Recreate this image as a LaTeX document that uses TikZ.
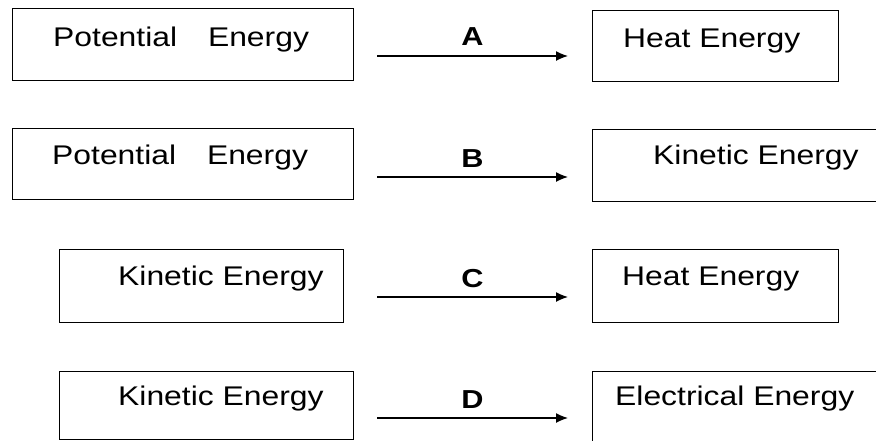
\documentclass[tikz,border=0pt]{standalone}
\usepackage{fontspec}
\setmainfont{Liberation Sans}[FakeStretch=1.18]
\usetikzlibrary{arrows.meta}
\begin{document}
\begin{tikzpicture}[x=1pt,y=-1pt,
  box/.style={draw=black, line width=1.4pt, rectangle, inner sep=0pt, anchor=north west},
  txt/.style={font=\fontsize{27}{30}\selectfont, inner sep=0pt, anchor=base west},
  lbl/.style={font=\fontsize{26}{28}\selectfont\bfseries, inner sep=0pt, anchor=base},
  conn/.style={line width=1.3pt, -{Latex[length=12pt,width=10pt]}}]
\useasboundingbox[fill=white] (0,0) rectangle (876,440);
% row 1
\node[box, minimum width=341pt, minimum height=72pt] (l1) at (12,8) {};
\node[txt] (t1) at (53,46) {Potential\hspace{22pt} Energy};
\node[box, minimum width=246pt, minimum height=71pt] (r1) at (592,10) {};
\node[txt] (u1) at (623,47) {Heat Energy};
\coordinate (s1) at (377,56);
\coordinate (e1) at (568,56);
\draw[conn] (s1) -- node[lbl, yshift=11pt] (A) {A} (e1);
% row 2
\node[box, minimum width=341pt, minimum height=71pt] (l2) at (12,128) {};
\node[txt] (t2) at (52,164) {Potential\hspace{22pt} Energy};
\node[box, minimum width=320pt, minimum height=72pt] (r2) at (592,129) {};
\node[txt] (u2) at (653,164) {Kinetic Energy};
\coordinate (s2) at (377,177);
\coordinate (e2) at (568,177);
\draw[conn] (s2) -- node[lbl, yshift=10pt] (B) {B} (e2);
% row 3
\node[box, minimum width=284pt, minimum height=73pt] (l3) at (59,249) {};
\node[txt] (t3) at (118,285) {Kinetic Energy};
\node[box, minimum width=246pt, minimum height=73pt] (r3) at (592,249) {};
\node[txt] (u3) at (622,285) {Heat Energy};
\coordinate (s3) at (377,297);
\coordinate (e3) at (568,297);
\draw[conn] (s3) -- node[lbl, yshift=10pt] (C) {C} (e3);
% row 4
\node[box, minimum width=294pt, minimum height=68pt] (l4) at (59,371) {};
\node[txt] (t4) at (118,405) {Kinetic Energy};
\node[box, minimum width=320pt, minimum height=100pt] (r4) at (592,371) {};
\node[txt] (u4) at (615,405) {Electrical Energy};
\coordinate (s4) at (377,418);
\coordinate (e4) at (568,418);
\draw[conn] (s4) -- node[lbl, yshift=10pt] (D) {D} (e4);
\end{tikzpicture}
\end{document}
